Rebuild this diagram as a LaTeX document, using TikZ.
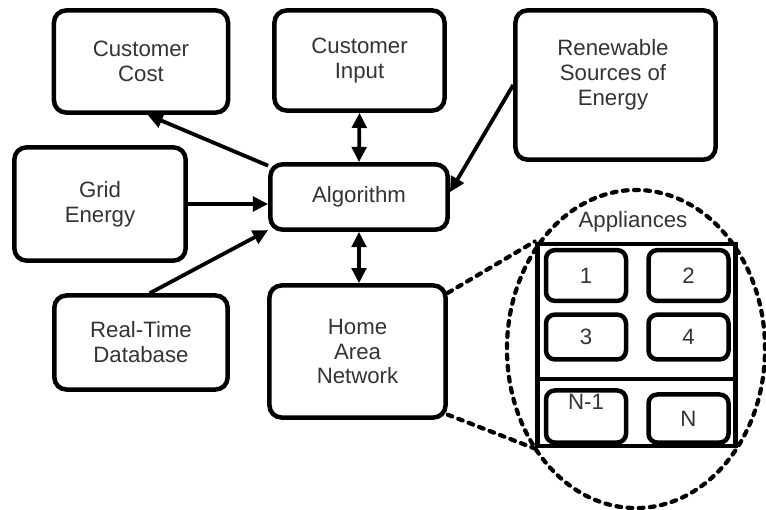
\documentclass[tikz,border=0pt]{standalone}
\usepackage{fontspec}
\setmainfont{Liberation Sans}
\usetikzlibrary{shapes.geometric,arrows.meta,positioning,calc}

\begin{document}
\begin{tikzpicture}[
  x=0.025cm, y=-0.025cm,
  font=\fontsize{15.8}{17.7}\selectfont,
  >={Triangle[length=0.38cm, width=0.36cm]},
  blk/.style={rectangle, rounded corners=0.3cm, draw, line width=3.2pt,
              align=center, text=black!80},
  appl/.style={rectangle, rounded corners=0.22cm, draw, line width=3.2pt,
               minimum width=2.0cm, align=center, text=black!80},
  txt/.style={align=center, text=black!80, inner sep=0pt},
  link/.style={->, line width=2.7pt},
  both/.style={<->, line width=2.7pt},
  zoomln/.style={line width=3pt, dash pattern=on 0.12cm off 0.16cm, line cap=round},
]
\useasboundingbox (0,0) rectangle (766,510);

\node[blk, minimum width=4.35cm, minimum height=2.55cm] (cost)  at (141,61.5)   {Customer\\Cost};
\node[blk, minimum width=4.25cm, minimum height=2.5cm]  (input) at (359.5,60.5) {Customer\\Input};
\node[blk, minimum width=5.0cm, minimum height=3.73cm]  (ren)   at (615.5,85)   {};
\node[txt] (rentxt) at (613,75) {Renewable\\Sources of\\Energy};
\node[blk, minimum width=4.28cm, minimum height=2.83cm] (grid)  at (100,204)    {Grid\\Energy};
\node[blk, minimum width=4.43cm, minimum height=1.63cm] (algo)  at (359,197)    {Algorithm};
\node[blk, minimum width=4.33cm, minimum height=2.35cm] (rtdb)  at (141,342.5)  {Real-Time\\Database};
\node[blk, minimum width=4.4cm, minimum height=3.3cm]   (han)   at (357.5,351.5){Home\\Area\\Network};

% appliances close-up
\node[ellipse, draw, zoomln, minimum width=6.45cm, minimum height=7.95cm] (zoom) at (636,349) {};
\node[rectangle, draw, line width=3.5pt, minimum width=4.97cm, minimum height=5.05cm] (panel) at (636.5,345) {};
\node[txt] (title) at (633,222) {Appliances};
\draw[line width=3.5pt] ($(panel.west)+(4,34)$) -- ($(panel.east)+(-4,34)$);

\node[appl, minimum height=1.27cm] (a1) at (586,275.5)   {1};
\node[appl, minimum height=1.27cm] (a2) at (688.5,275.5) {2};
\node[appl, minimum height=1.12cm] (a3) at (586,337)     {3};
\node[appl, minimum height=1.12cm] (a4) at (688.5,337)   {4};
\node[appl, minimum height=1.3cm]  (a5) at (586,416.5)   {};
\node[txt] (a5txt) at (586,402) {N-1};
\node[appl, minimum height=1.2cm]  (a6) at (688.5,418.5) {N};

\draw[link] (algo.161) -- (cost.-83);
\draw[both] (input.south) -- (algo.north);
\draw[link] (grid.east) -- (grid.east -| algo.west);
\draw[link] (rtdb.80) -- (algo.-160);
\draw[link] (ren.west) -- (algo.3);
\draw[both] (algo.south) -- (algo.south |- han.north);
\draw[zoomln] (han.33) -- (panel.north west);
\draw[zoomln] (han.-35) -- (panel.south west);

\end{tikzpicture}
\end{document}
